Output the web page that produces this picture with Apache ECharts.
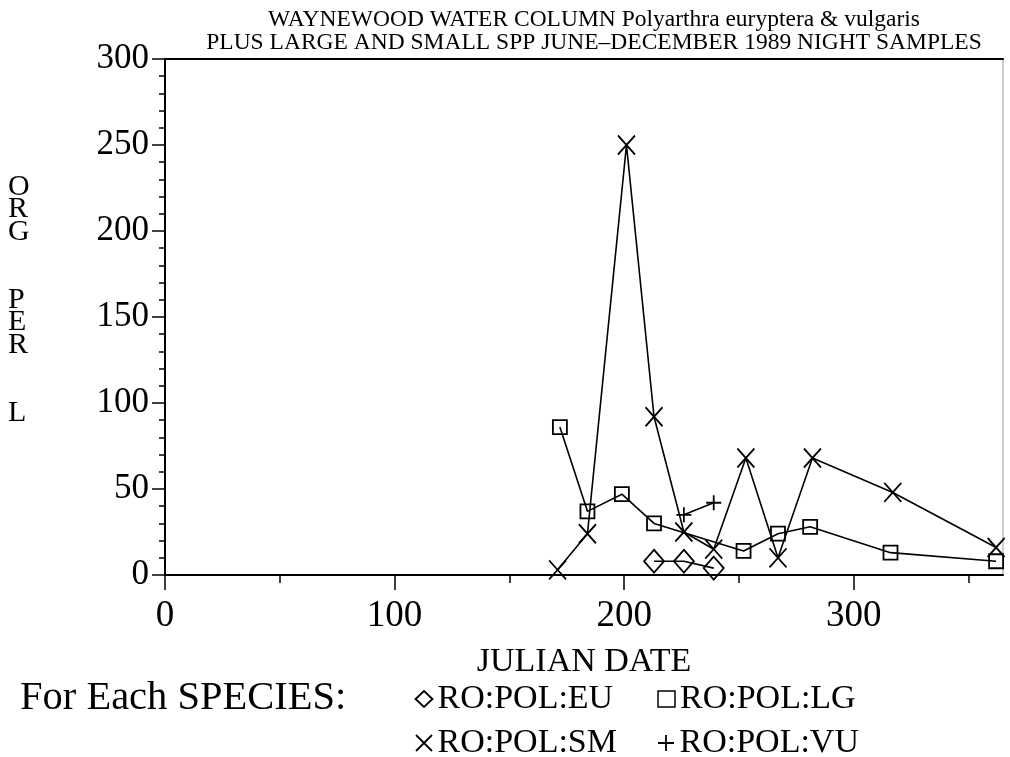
<!DOCTYPE html>
<html>
<head>
<meta charset="utf-8">
<script src="https://cdn.jsdelivr.net/npm/echarts@6/dist/echarts.min.js"></script>
<style>
  html, body { margin: 0; padding: 0; background: #fff; }
  #chart { width: 1010px; height: 757px; }
</style>
</head>
<body>
<div id="chart"></div>
<script>
  // julian date / organisms per litre
  var dateEU = [213, 226, 239];
  var valEU = [8, 8, 4];
  var dateLG = [172, 184, 199, 213, 252, 267, 281, 316, 362];
  var valLG = [86, 37, 47, 30, 14, 24, 28, 13, 8];
  var dateSM = [171, 184, 201, 213, 226, 239, 253, 267, 282, 317, 362];
  var valSM = [3, 24, 250, 92, 25, 15, 68, 10, 68, 48, 16];
  var dateVU = [226, 239];
  var valVU = [35, 42];

  var xMajorTicks = [0, 100, 200, 300];
  var xMinorTicks = [50, 150, 250, 350];
  var names = ['RO:POL:EU', 'RO:POL:LG', 'RO:POL:SM', 'RO:POL:VU'];

  var FONT = 'Liberation Serif';
  var crossPath = 'path://M0,0L10,10M10,0L0,10';
  var plusPath = 'path://M5,0L5,10M0,5L10,5';

  function pairs(xs, ys) {
    return xs.map(function (x, i) { return [x, ys[i]]; });
  }

  var markStyle = { color: 'none', borderColor: '#000', borderWidth: 1.8 };

  function makeSeries(name, xs, ys, symbol, size) {
    return {
      name: name,
      type: 'line',
      data: pairs(xs, ys),
      symbol: symbol,
      symbolSize: size,
      showAllSymbol: true,
      clip: false,
      lineStyle: { color: '#000', width: 1.6 },
      itemStyle: markStyle,
      emphasis: { disabled: true },
      z: 3
    };
  }

  var chart = echarts.init(document.getElementById('chart'));
  var option = {
    backgroundColor: '#fff',
    animation: false,
    title: {
      text: 'WAYNEWOOD WATER COLUMN Polyarthra euryptera & vulgaris\nPLUS LARGE AND SMALL SPP JUNE\u2013DECEMBER 1989 NIGHT SAMPLES',
      left: 589,
      top: 3,
      textAlign: 'center',
      textStyle: { fontFamily: FONT, fontSize: 23.5, fontWeight: 'normal', color: '#000', lineHeight: 23 }
    },
    grid: {
      left: 165, right: 7, top: 59, bottom: 182,
      show: true, borderColor: '#999', borderWidth: 1
    },
    legend: {
      left: 408,
      top: 677,
      width: 520,
      itemWidth: 17,
      itemHeight: 16,
      itemGap: 10,
      selectedMode: false,
      textStyle: { fontFamily: FONT, fontSize: 34, color: '#000', width: 208, lineHeight: 33 },
      data: [
        { name: names[0], icon: 'diamond', itemStyle: markStyle },
        { name: names[1], icon: 'rect', itemStyle: { color: 'none', borderColor: '#000', borderWidth: 1.5 } },
        { name: names[2], icon: crossPath, itemStyle: markStyle },
        { name: names[3], icon: plusPath, itemStyle: markStyle }
      ]
    },
    xAxis: [{
      type: 'value',
      min: 0,
      max: 365,
      name: 'JULIAN DATE',
      nameLocation: 'middle',
      nameGap: 70,
      nameTextStyle: { fontFamily: FONT, fontSize: 34, color: '#000' },
      axisLine: { show: true, onZero: false, lineStyle: { color: '#000', width: 2 } },
      axisTick: { show: true, length: 15, customValues: xMajorTicks, lineStyle: { color: '#000', width: 1.5 } },
      axisLabel: { customValues: xMajorTicks, margin: 23, fontFamily: FONT, fontSize: 37, color: '#000' },
      splitLine: { show: false }
    }, {
      type: 'value',
      min: 0,
      max: 365,
      position: 'bottom',
      axisLine: { show: false },
      axisTick: { show: true, length: 8, customValues: xMinorTicks, lineStyle: { color: '#000', width: 1.5 } },
      axisLabel: { show: false },
      splitLine: { show: false }
    }, {
      type: 'value',
      min: 0,
      max: 365,
      position: 'top',
      axisLine: { show: true, lineStyle: { color: '#000', width: 2 } },
      axisTick: { show: false },
      axisLabel: { show: false },
      splitLine: { show: false }
    }],
    yAxis: {
      type: 'value',
      min: 0,
      max: 300,
      interval: 50,
      axisLine: { show: true, lineStyle: { color: '#000', width: 2 } },
      axisTick: { show: true, length: 13, lineStyle: { color: '#000', width: 1.5 } },
      minorTick: { show: true, splitNumber: 5, length: 6, lineStyle: { color: '#000', width: 1.5 } },
      axisLabel: { margin: 16, fontFamily: FONT, fontSize: 35, color: '#000' },
      splitLine: { show: false }
    },
    graphic: [{
      type: 'text',
      left: 8,
      top: 172,
      style: {
        text: 'O\nR\nG\n\n\nP\nE\nR\n\n\nL',
        font: '30px "Liberation Serif"',
        lineHeight: 22.6,
        fill: '#000'
      }
    }, {
      type: 'text',
      left: 20,
      top: 678,
      style: {
        text: 'For Each SPECIES:',
        font: '40.5px "Liberation Serif"',
        fill: '#000'
      }
    }],
    series: [
      makeSeries(names[0], dateEU, valEU, 'diamond', [20, 23]),
      makeSeries(names[1], dateLG, valLG, 'rect', 14),
      makeSeries(names[2], dateSM, valSM, crossPath, [17, 19]),
      makeSeries(names[3], dateVU, valVU, plusPath, 15)
    ]
  };
  chart.setOption(option);
</script>
</body>
</html>
